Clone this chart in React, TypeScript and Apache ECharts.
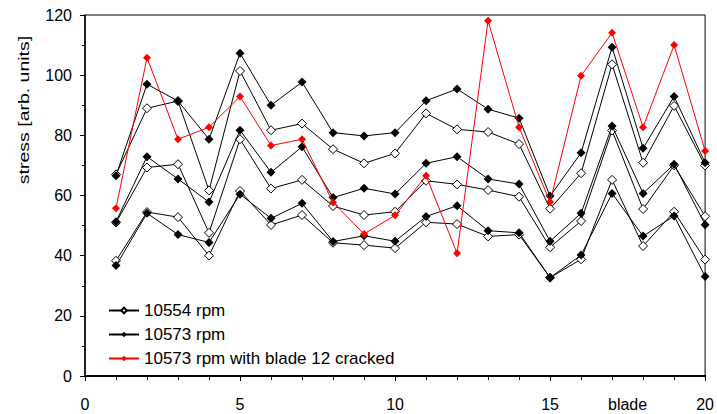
import React, { useEffect, useRef } from "react";
import * as echarts from "echarts";

const blades = [1, 2, 3, 4, 5, 6, 7, 8, 9, 10, 11, 12, 13, 14, 15, 16, 17, 18, 19, 20];

const rpm10554High = [67, 89, 91.4, 61.7, 101.4, 81.7, 83.9, 75.4, 70.7, 74, 87.3, 82, 81.1, 77.1, 55.6, 67.4, 103.6, 70.9, 89.8, 70];
const rpm10554Mid = [51, 69.3, 70.4, 47.6, 78.7, 62.3, 65.2, 56.5, 53.5, 54.6, 64.9, 63.7, 61.8, 59.6, 42.8, 51.5, 81.6, 55.5, 70, 53.1];
const rpm10554Low = [38.3, 54.5, 52.8, 40, 61.5, 50.2, 53.5, 44.3, 43.5, 42.5, 51.1, 50.5, 46.4, 47, 32.7, 38.8, 65.2, 43.2, 54.6, 38.7];

const rpm10573High = [66.6, 97, 91.4, 78.7, 107.3, 90, 97.7, 80.9, 79.8, 80.9, 91.5, 95.4, 88.7, 85.7, 59.8, 74.2, 109.3, 75.7, 92.9, 70.9];
const rpm10573Mid = [51.3, 72.9, 65.5, 57.8, 81.7, 67.7, 76.2, 59.3, 62.4, 60.5, 70.7, 72.9, 65.5, 63.8, 44.8, 54.1, 83.1, 60.7, 70.4, 50.3];
const rpm10573Low = [36.7, 54.1, 47, 44.4, 60.4, 52.4, 57.4, 44.7, 46.6, 44.8, 53, 56.6, 48.3, 47.6, 32.7, 40.2, 60.7, 46.5, 53.2, 33.1];

const cracked = [55.8, 105.8, 78.7, 82.7, 92.9, 76.6, 78.7, 57.7, 47.2, 53.4, 66.6, 40.8, 118.1, 82.7, 57.8, 99.8, 114.1, 82.7, 110, 74.8];

const NAME_A = "10554 rpm";
const NAME_B = "10573 rpm";
const NAME_C = "10573 rpm with blade 12 cracked";

const FONT = "Arial, 'Liberation Sans', sans-serif";

const pairs = (vals: number[]) => blades.map((b, i) => [b, vals[i]]);

export default function App() {
  const ref = useRef<HTMLDivElement>(null);
  useEffect(() => {
    if (!ref.current) return;
    const chart = echarts.init(ref.current, null, { renderer: "svg" });
    const openSeries = (vals: number[]) => ({
      type: "line",
      name: NAME_A,
      data: pairs(vals),
      symbol: "diamond",
      symbolSize: 9,
      lineStyle: { color: "#000", width: 1 },
      itemStyle: { color: "#fff", borderColor: "#000", borderWidth: 1 },
      z: 2,
    });
    const filledSeries = (vals: number[]) => ({
      type: "line",
      name: NAME_B,
      data: pairs(vals),
      symbol: "diamond",
      symbolSize: 9,
      lineStyle: { color: "#000", width: 1 },
      itemStyle: { color: "#000", borderColor: "#000", borderWidth: 0 },
      z: 3,
    });
    chart.setOption({
      animation: false,
      textStyle: { fontFamily: FONT },
      grid: {
        left: 85,
        right: 11,
        top: 15,
        bottom: 38,
        show: true,
        borderColor: "#000",
        borderWidth: 1,
        backgroundColor: "transparent",
      },
      legend: {
        orient: "vertical",
        left: 103,
        top: 297,
        itemWidth: 30,
        itemHeight: 7,
        itemGap: 7,
        textStyle: { fontSize: 17, color: "#000", fontFamily: FONT },
        data: [NAME_A, NAME_B, NAME_C],
      },
      xAxis: [
        {
          type: "value",
          min: 0,
          max: 20,
          interval: 5,
          axisLine: { show: true, lineStyle: { color: "#000", width: 2 } },
          axisTick: { show: true, inside: false, length: 5, lineStyle: { color: "#000" } },
          minorTick: { show: true, splitNumber: 5, length: 4, lineStyle: { color: "#000" } },
          splitLine: { show: false },
          axisLabel: { fontSize: 16, color: "#000", margin: 20, fontFamily: FONT },
        },
        {
          type: "value",
          min: 0,
          max: 20,
          interval: 17.5,
          position: "bottom",
          axisLine: { show: false },
          axisTick: { show: false },
          splitLine: { show: false },
          axisLabel: {
            fontSize: 16,
            color: "#000",
            margin: 20,
            fontFamily: FONT,
            showMinLabel: false,
            showMaxLabel: false,
            formatter: (v: number) => (v === 17.5 ? "blade" : ""),
          },
        },
      ],
      yAxis: {
        type: "value",
        min: 0,
        max: 120,
        interval: 20,
        axisLine: { show: true, lineStyle: { color: "#000", width: 1.5 } },
        axisTick: { show: true, inside: false, length: 5, lineStyle: { color: "#000" } },
        minorTick: { show: true, splitNumber: 2, length: 3, lineStyle: { color: "#000" } },
        splitLine: { show: false },
        axisLabel: { fontSize: 16, color: "#000", margin: 13, fontFamily: FONT },
      },
      graphic: [
        {
          type: "text",
          x: 24,
          y: 110,
          rotation: Math.PI / 2,
          scaleX: 1.3,
          style: {
            text: "stress [arb. units]",
            fontSize: 15,
            fontFamily: FONT,
            fill: "#000",
            textAlign: "center",
            textVerticalAlign: "middle",
          },
        },
      ],
      series: [
        openSeries(rpm10554High),
        openSeries(rpm10554Mid),
        openSeries(rpm10554Low),
        filledSeries(rpm10573High),
        filledSeries(rpm10573Mid),
        filledSeries(rpm10573Low),
        {
          type: "line",
          name: NAME_C,
          data: pairs(cracked),
          symbol: "diamond",
          symbolSize: 8,
          lineStyle: { color: "#ff0000", width: 1 },
          itemStyle: { color: "#ff0000", borderWidth: 0 },
          z: 4,
        },
      ],
    });
    return () => chart.dispose();
  }, []);
  return <div ref={ref} style={{ width: 717, height: 414, position: "absolute", left: 0, top: 0 }} />;
}
